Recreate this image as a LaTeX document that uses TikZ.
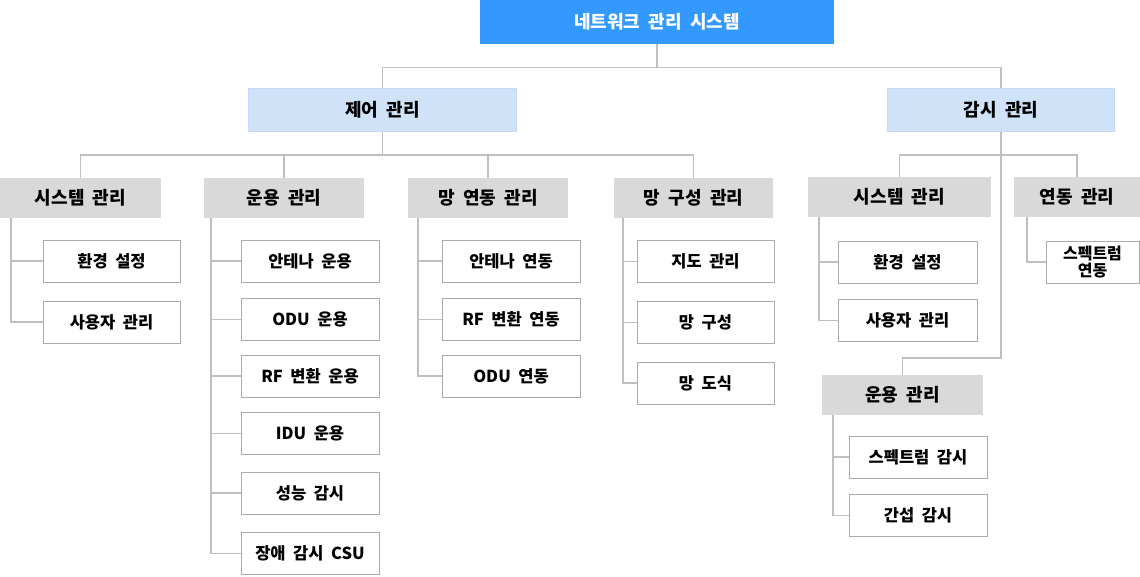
\documentclass[tikz,border=0pt]{standalone}
\usepackage{fontspec}
\setmainfont{Noto Sans CJK KR}[WordSpace=2]
\usetikzlibrary{calc}
\definecolor{nBlue}{RGB}{51,153,255}
\definecolor{nLight}{RGB}{207,226,248}
\definecolor{nLightB}{RGB}{196,218,245}
\definecolor{nGray}{RGB}{217,217,217}
\definecolor{nLine}{RGB}{191,191,191}
\definecolor{nEdge}{RGB}{170,170,170}
\tikzset{
    sz/.style 2 args={minimum width=#1, minimum height=#2},
    topbox/.style={rectangle, inner sep=0pt, fill=nBlue, text=white, font=\bfseries\fontsize{18}{21}\selectfont},
    midbox/.style={rectangle, inner sep=0pt, fill=nLight, draw=nLightB, line width=1pt, font=\bfseries\fontsize{18}{21}\selectfont},
    grpbox/.style={rectangle, inner sep=0pt, fill=nGray, font=\bfseries\fontsize{18}{21}\selectfont},
    leaf/.style={rectangle, inner sep=0pt, draw=nEdge, fill=white, line width=1pt, minimum width=138, minimum height=42, align=center, font=\bfseries\fontsize{16.5}{19}\selectfont},
    link/.style={draw=nLine, line width=1.4pt}
}

\begin{document}
\begin{tikzpicture}[x=1pt,y=-1pt]
\useasboundingbox (0,0) rectangle (1140,576);
% top levels
\node[topbox,sz={354}{44}] (net) at (657,22) {네트워크 관리 시스템};
\node[midbox,sz={268}{43}] (ctrl) at (382.5,110) {제어 관리};
\node[midbox,sz={227}{43}] (mon) at (1001,110) {감시 관리};
% control groups
\node[grpbox,sz={161}{40}] (c1) at (80.5,198) {시스템 관리};
\node[grpbox,sz={160}{40}] (c2) at (284,198) {운용 관리};
\node[grpbox,sz={160}{40}] (c3) at (488,198) {망 연동 관리};
\node[grpbox,sz={159}{40}] (c4) at (693.5,198) {망 구성 관리};
% monitor groups
\node[grpbox,sz={183}{40}] (m1) at (899.5,197) {시스템 관리};
\node[grpbox,sz={126}{40}] (m2) at (1077,197) {연동 관리};
\node[grpbox,sz={161}{40}] (m3) at (902.5,395) {운용 관리};
% leaves
\node[leaf,minimum width=137] (c1a) at (111.5,261) {환경 설정};
\node[leaf,minimum width=137] (c1b) at (111.5,322) {사용자 관리};
\node[leaf] (c2a) at (310,261) {안테나 운용};
\node[leaf] (c2b) at (310,319.5) {ODU 운용};
\node[leaf] (c2c) at (310,376) {RF 변환 운용};
\node[leaf] (c2d) at (310,433.5) {IDU 운용};
\node[leaf] (c2e) at (310,493) {성능 감시};
\node[leaf] (c2f) at (310,553.5) {장애 감시 CSU};
\node[leaf] (c3a) at (511,261) {안테나 연동};
\node[leaf] (c3b) at (511,319.5) {RF 변환 연동};
\node[leaf] (c3c) at (511,376) {ODU 연동};
\node[leaf,minimum width=137] (c4a) at (705.5,261.5) {지도 관리};
\node[leaf,minimum width=137] (c4b) at (705.5,322.5) {망 구성};
\node[leaf,minimum width=137] (c4c) at (705.5,383) {망 도식};
\node[leaf,minimum width=139] (m1a) at (907.5,262) {환경 설정};
\node[leaf,minimum width=139] (m1b) at (907.5,320.5) {사용자 관리};
\node[leaf,minimum width=93,font=\bfseries\fontsize{16}{17}\selectfont] (m2a) at (1092.5,262) {스펙트럼\\연동};
\node[leaf] (m3a) at (918,457) {스펙트럼 감시};
\node[leaf] (m3b) at (918,515.5) {간섭 감시};
% connectors
\foreach \n in {ctrl,mon}
    \draw[link] (net.south) -- ++(0,23) -| (\n.north);
\foreach \n in {c1,c2,c3,c4}
    \draw[link] (ctrl.south) -- ++(0,23) -| (\n.north);
\foreach \n in {m1,m2}
    \draw[link] (mon.south) -- ++(0,23) -| (\n.north);
\draw[link] (mon.south) -- ++(0,226) -| (m3.north);
\foreach \n in {c1a,c1b}
    \draw[link] ($(c1.south west)+(11,0)$) |- (\n.west);
\foreach \n in {c2a,c2b,c2c,c2d,c2e,c2f}
    \draw[link] ($(c2.south west)+(7,0)$) |- (\n.west);
\foreach \n in {c3a,c3b,c3c}
    \draw[link] ($(c3.south west)+(10,0)$) |- (\n.west);
\foreach \n in {c4a,c4b,c4c}
    \draw[link] ($(c4.south west)+(9,0)$) |- (\n.west);
\foreach \n in {m1a,m1b}
    \draw[link] ($(m1.south west)+(11,0)$) |- (\n.west);
\draw[link] ($(m2.south west)+(13,0)$) |- (m2a.west);
\foreach \n in {m3a,m3b}
    \draw[link] ($(m3.south west)+(11,0)$) |- (\n.west);
\end{tikzpicture}
\end{document}
